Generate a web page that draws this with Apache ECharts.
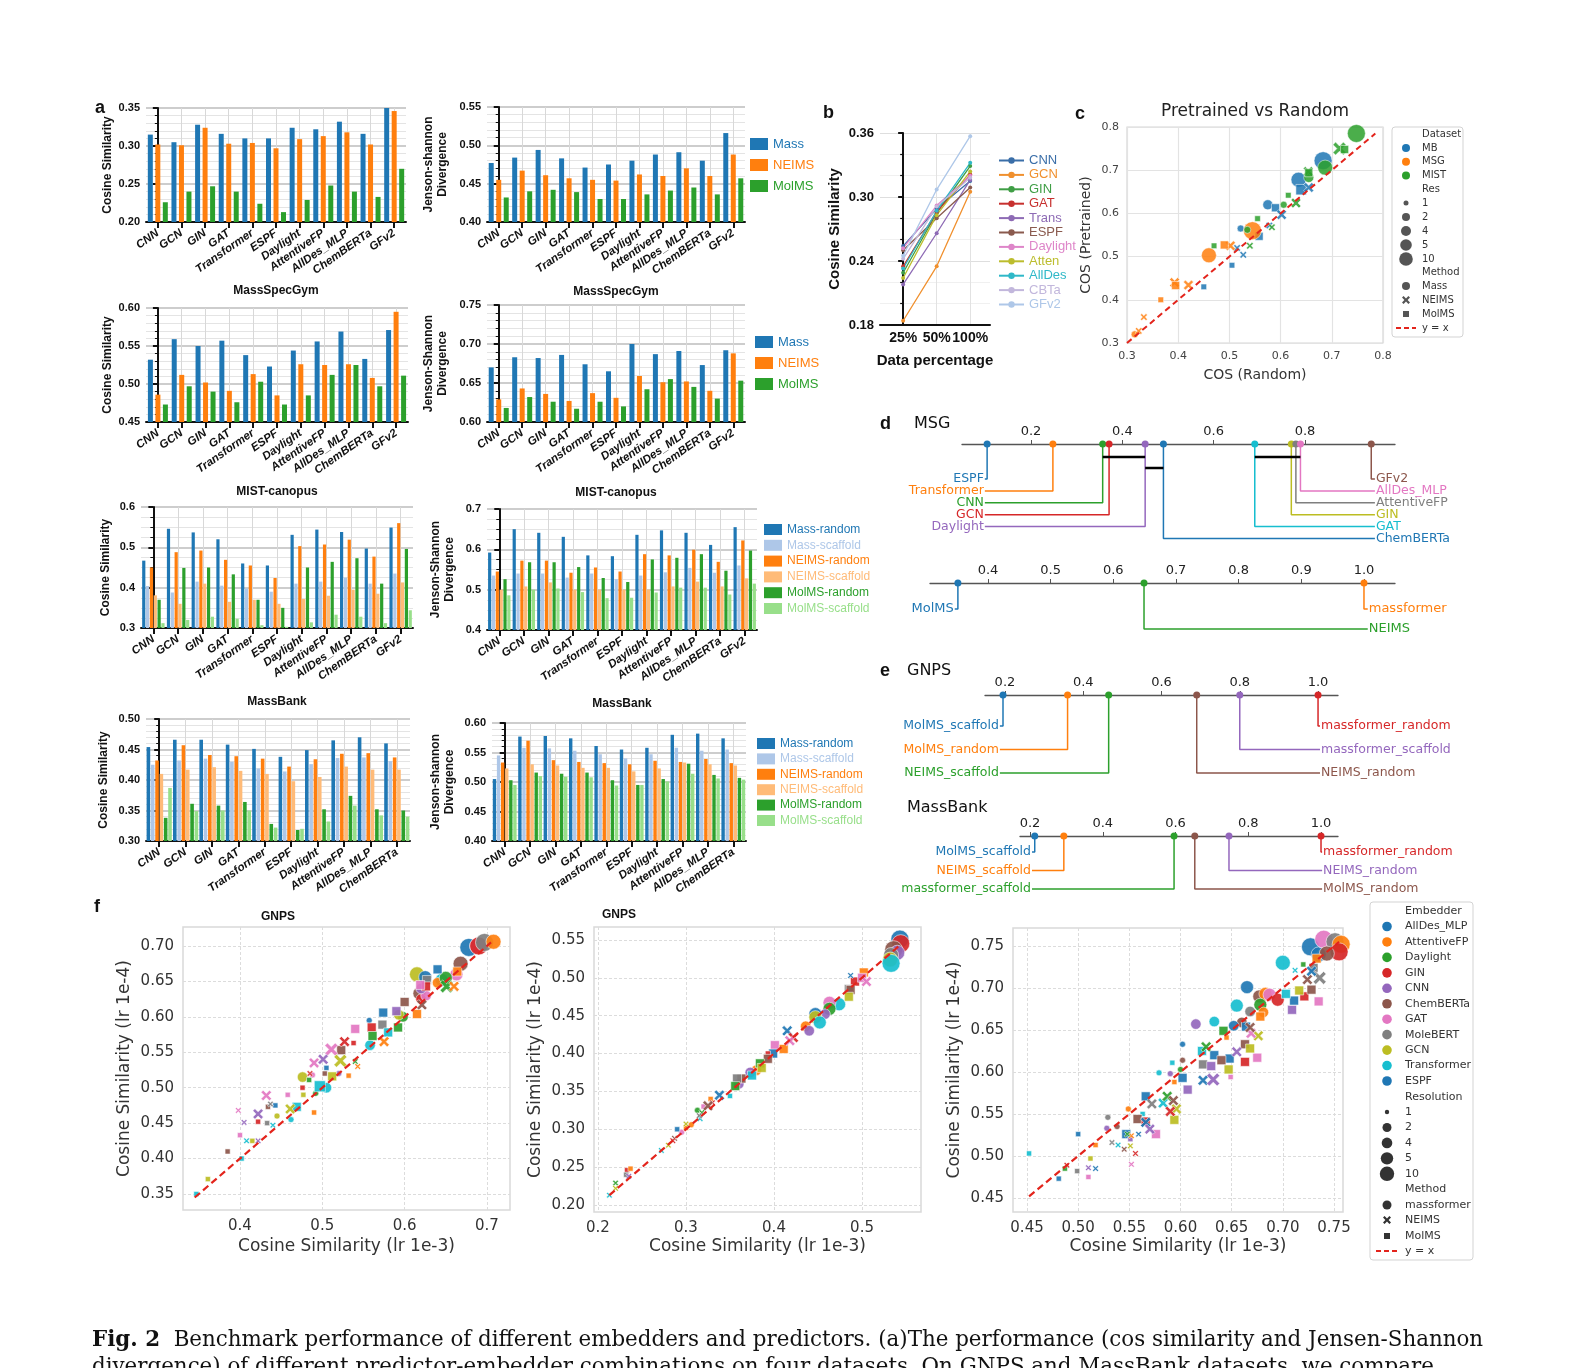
<!DOCTYPE html>
<html><head><meta charset="utf-8">
<script src="https://cdn.jsdelivr.net/npm/echarts@6/dist/echarts.min.js"></script>
<style>html,body{margin:0;padding:0;background:#fff;overflow:hidden}#c{width:1570px;height:1368px}</style>
</head><body><div id="c"></div>
<script>
// ================= DATA =================
const embA = ['CNN','GCN','GIN','GAT','Transformer','ESPF','Daylight','AttentiveFP','AllDes_MLP','ChemBERTa','GFv2'];
const embG = ['CNN','GCN','GIN','GAT','Transformer','ESPF','Daylight','AttentiveFP','AllDes_MLP','ChemBERTa'];
// MassSpecGym
const msgCos_Mass  = [0.315,0.305,0.328,0.316,0.310,0.310,0.324,0.322,0.332,0.316,0.350];
const msgCos_NEIMS = [0.302,0.301,0.324,0.303,0.304,0.297,0.309,0.313,0.318,0.302,0.346];
const msgCos_MolMS = [0.226,0.240,0.247,0.240,0.224,0.213,0.229,0.248,0.240,0.233,0.270];
const msgJS_Mass   = [0.477,0.484,0.494,0.483,0.471,0.475,0.480,0.488,0.491,0.480,0.516];
const msgJS_NEIMS  = [0.455,0.467,0.461,0.457,0.455,0.454,0.462,0.460,0.470,0.460,0.488];
const msgJS_MolMS  = [0.432,0.440,0.442,0.439,0.430,0.430,0.436,0.441,0.445,0.436,0.457];
// MIST-canopus
const mistCos_Mass  = [0.532,0.559,0.550,0.557,0.538,0.523,0.544,0.556,0.569,0.533,0.571];
const mistCos_NEIMS = [0.486,0.512,0.502,0.491,0.513,0.485,0.526,0.525,0.526,0.508,0.595];
const mistCos_MolMS = [0.473,0.497,0.490,0.476,0.503,0.473,0.485,0.512,0.525,0.497,0.511];
const mistJS_Mass   = [0.670,0.683,0.682,0.686,0.674,0.665,0.700,0.687,0.691,0.673,0.692];
const mistJS_NEIMS  = [0.629,0.643,0.636,0.627,0.637,0.631,0.659,0.651,0.652,0.640,0.688];
const mistJS_MolMS  = [0.618,0.632,0.626,0.617,0.626,0.620,0.642,0.655,0.645,0.630,0.653];
// MassBank
const mbCos_MassR  = [0.467,0.546,0.537,0.520,0.460,0.455,0.531,0.544,0.538,0.497,0.549];
const mbCos_MassS  = [0.404,0.388,0.415,0.405,0.398,0.390,0.410,0.415,0.425,0.410,0.435];
const mbCos_NEIMSR = [0.450,0.488,0.492,0.469,0.455,0.424,0.503,0.507,0.519,0.477,0.560];
const mbCos_NEIMSS = [0.381,0.360,0.410,0.365,0.370,0.360,0.372,0.380,0.395,0.385,0.413];
const mbCos_MolMSR = [0.370,0.449,0.450,0.433,0.370,0.350,0.450,0.464,0.473,0.410,0.496];
const mbCos_MolMSS = [0.312,0.320,0.328,0.323,0.307,0.303,0.314,0.333,0.328,0.312,0.344];
const mbJS_MassR   = [0.592,0.650,0.641,0.631,0.585,0.583,0.636,0.647,0.641,0.611,0.655];
const mbJS_MassS   = [0.535,0.540,0.540,0.530,0.540,0.526,0.535,0.543,0.554,0.542,0.560];
const mbJS_NEIMSR  = [0.545,0.572,0.572,0.542,0.555,0.545,0.588,0.585,0.599,0.569,0.622];
const mbJS_NEIMSS  = [0.500,0.508,0.518,0.500,0.500,0.500,0.500,0.508,0.520,0.508,0.528];
const mbJS_MolMSR  = [0.526,0.568,0.568,0.556,0.529,0.519,0.575,0.579,0.588,0.547,0.597];
const mbJS_MolMSS  = [0.486,0.500,0.503,0.494,0.479,0.480,0.493,0.505,0.505,0.488,0.515];
// GNPS
const gnCos_MassR  = [0.454,0.466,0.466,0.458,0.451,0.438,0.449,0.465,0.470,0.460];
const gnCos_MassS  = [0.425,0.432,0.435,0.430,0.419,0.414,0.426,0.436,0.437,0.431];
const gnCos_NEIMSR = [0.432,0.457,0.441,0.439,0.435,0.422,0.434,0.443,0.444,0.437];
const gnCos_NEIMSS = [0.410,0.417,0.421,0.415,0.410,0.398,0.405,0.422,0.417,0.417];
const gnCos_MolMSR = [0.338,0.361,0.358,0.364,0.328,0.318,0.352,0.374,0.352,0.350];
const gnCos_MolMSS = [0.387,0.349,0.350,0.350,0.322,0.320,0.332,0.358,0.342,0.340];
const gnJS_MassR   = [0.505,0.577,0.578,0.574,0.561,0.555,0.558,0.580,0.582,0.574];
const gnJS_MassS   = [0.545,0.558,0.557,0.553,0.547,0.540,0.547,0.558,0.553,0.555];
const gnJS_NEIMSR  = [0.533,0.570,0.537,0.534,0.532,0.530,0.536,0.534,0.539,0.532];
const gnJS_NEIMSS  = [0.523,0.530,0.528,0.524,0.524,0.518,0.523,0.533,0.530,0.528];
const gnJS_MolMSR  = [0.503,0.516,0.514,0.516,0.503,0.495,0.505,0.531,0.512,0.507];
const gnJS_MolMSS  = [0.495,0.510,0.509,0.508,0.494,0.495,0.501,0.514,0.506,0.504];

// Panel b
const bCats = ['25%','50%','100%'];
const bNames = ['CNN','GCN','GIN','GAT','Trans','ESPF','Daylight','Atten','AllDes','CBTa','GFv2'];
const b_CNN = [0.254,0.289,0.315];
const b_GCN = [0.184,0.235,0.305];
const b_GIN = [0.229,0.285,0.329];
const b_GAT = [0.235,0.286,0.321];
const b_Trans = [0.218,0.266,0.316];
const b_ESPF = [0.250,0.280,0.309];
const b_Daylight = [0.252,0.292,0.320];
const b_Atten = [0.224,0.283,0.324];
const b_AllDes = [0.233,0.287,0.332];
const b_CBTa = [0.242,0.291,0.318];
const b_GFv2 = [0.245,0.307,0.357];

// Panel c  [COS random, COS pretrained, dataset, res, method]
const cDatasets = ['MB','MSG','MIST'];
const cMethods = ['Mass','NEIMS','MolMS'];
const cRes = [1,2,4,5,10];
const cPoints = [
 [0.683,0.722,0,10,0],[0.635,0.678,0,5,0],[0.575,0.620,0,2,0],[0.522,0.565,0,1,0],
 [0.640,0.655,0,4,2],[0.590,0.613,0,2,2],[0.558,0.547,0,2,2],[0.505,0.480,0,1,2],[0.450,0.430,0,1,2],
 [0.655,0.660,0,2,1],[0.602,0.597,0,2,1],[0.578,0.572,0,1,1],[0.527,0.504,0,1,1],[0.515,0.520,0,1,1],
 [0.545,0.560,1,10,0],[0.460,0.503,1,5,0],[0.315,0.320,1,1,0],
 [0.502,0.525,1,2,1],[0.420,0.434,1,2,1],[0.393,0.440,1,2,1],[0.333,0.360,1,1,1],[0.323,0.328,1,1,1],
 [0.490,0.527,1,2,2],[0.395,0.433,1,2,2],[0.366,0.400,1,1,2],
 [0.748,0.785,2,10,0],[0.687,0.706,2,5,0],[0.655,0.683,2,2,0],[0.606,0.620,2,1,0],[0.535,0.562,2,1,0],
 [0.715,0.750,2,4,1],[0.654,0.697,2,2,1],[0.630,0.624,2,2,1],[0.583,0.568,2,1,1],[0.540,0.525,2,1,1],
 [0.725,0.748,2,2,2],[0.655,0.694,2,2,2],[0.615,0.642,2,1,2],[0.555,0.588,2,1,2],[0.470,0.525,2,1,2]
];

// Panel d / e (average rank positions)
const msgNames = ['ESPF','Transformer','CNN','GCN','Daylight','ChemBERTa','GAT','GIN','AttentiveFP','AllDes_MLP','GFv2'];
const msgVals  = [0.104,0.248,0.357,0.371,0.450,0.490,0.690,0.770,0.780,0.790,0.945];
const msgCliques = [[0.357,0.450],[0.450,0.490],[0.690,0.790]];
const molNames = ['MolMS','NEIMS','massformer'];
const molVals  = [0.352,0.649,1.000];
const gnpsNames = ['MolMS_scaffold','MolMS_random','NEIMS_scaffold','NEIMS_random','massformer_scaffold','massformer_random'];
const gnpsVals  = [0.195,0.360,0.465,0.690,0.800,1.000];
const mbNames = ['MolMS_scaffold','NEIMS_scaffold','massformer_scaffold','MolMS_random','NEIMS_random','massformer_random'];
const mbVals  = [0.213,0.293,0.596,0.653,0.747,1.000];

// Panel f  [lr 1e-3, lr 1e-4, embedder, resolution, method]
const fEmbedders = ['AllDes_MLP','AttentiveFP','Daylight','GIN','CNN','ChemBERTa','GAT','MoleBERT','GCN','Transformer','ESPF'];
const fMethods = ['massformer','NEIMS','MolMS'];
const f1Points = [
 [0.678,0.698,0,10,0],[0.688,0.700,6,5,0],[0.690,0.700,3,10,0],[0.697,0.705,7,10,0],[0.708,0.706,1,5,0],[0.668,0.675,5,5,0],
 [0.663,0.660,6,4,0],[0.615,0.660,8,5,0],[0.625,0.656,0,4,0],[0.645,0.652,9,4,0],[0.618,0.633,5,4,0],[0.620,0.625,3,2,0],
 [0.626,0.630,6,2,0],[0.598,0.600,2,2,0],[0.593,0.603,8,2,0],[0.557,0.595,0,1,0],[0.558,0.560,9,2,0],[0.476,0.515,8,2,0],
 [0.488,0.518,6,1,0],[0.520,0.520,4,1,0],[0.505,0.500,9,2,0],[0.492,0.492,2,1,0],[0.445,0.460,8,1,0],[0.462,0.455,9,1,0],
 [0.620,0.640,4,2,0],[0.640,0.648,1,2,0],[0.650,0.655,2,4,0],
 [0.664,0.664,1,2,2],[0.640,0.667,10,2,2],[0.627,0.652,7,2,2],[0.626,0.643,3,2,2],[0.619,0.645,6,2,2],[0.600,0.621,5,2,2],
 [0.590,0.608,4,2,2],[0.615,0.604,1,2,2],[0.574,0.606,10,2,2],[0.573,0.589,7,2,2],[0.560,0.585,3,2,2],[0.592,0.585,2,2,2],
 [0.580,0.578,9,2,2],[0.540,0.583,6,2,2],[0.561,0.573,2,2,2],[0.538,0.563,3,1,2],[0.523,0.553,5,2,2],[0.484,0.511,2,1,2],
 [0.503,0.520,5,1,2],[0.505,0.528,10,1,2],[0.532,0.517,1,1,2],[0.497,0.502,9,4,2],[0.512,0.516,8,2,2],[0.476,0.500,3,1,2],
 [0.477,0.490,8,1,2],[0.458,0.490,6,1,2],[0.434,0.473,5,1,2],[0.443,0.475,10,1,2],[0.469,0.473,9,2,2],[0.490,0.465,1,1,2],
 [0.422,0.452,3,1,2],[0.433,0.450,7,1,2],[0.400,0.433,6,1,2],[0.415,0.425,8,1,2],[0.402,0.400,9,1,2],[0.385,0.410,5,1,2],
 [0.361,0.371,8,1,2],[0.347,0.350,9,1,2],
 [0.651,0.643,2,4,1],[0.660,0.643,1,2,1],[0.621,0.617,5,2,1],[0.575,0.565,1,2,1],[0.527,0.565,3,2,1],[0.511,0.554,6,4,1],
 [0.490,0.535,6,2,1],[0.501,0.540,4,2,1],[0.522,0.538,8,4,1],[0.540,0.537,2,1,1],[0.543,0.530,1,1,1],[0.485,0.520,3,1,1],
 [0.432,0.489,6,2,1],[0.437,0.477,7,1,1],[0.461,0.470,8,2,1],[0.422,0.463,4,2,1],[0.405,0.451,4,1,1],[0.440,0.447,9,1,1],
 [0.398,0.468,6,1,1],[0.408,0.425,9,1,1],[0.422,0.425,4,1,1]
];
const f2Points = [
 [0.543,0.551,0,10,0],[0.544,0.545,3,10,0],[0.536,0.537,5,10,0],[0.540,0.533,4,5,0],[0.533,0.530,7,5,0],[0.532,0.524,8,5,0],
 [0.533,0.519,9,10,0],[0.474,0.465,9,4,0],[0.463,0.467,6,4,0],[0.463,0.459,2,4,0],[0.458,0.452,4,2,0],[0.447,0.452,0,4,0],
 [0.447,0.448,8,4,0],[0.452,0.441,9,4,0],[0.436,0.436,1,2,0],[0.440,0.430,4,2,0],[0.380,0.378,1,2,0],[0.373,0.375,4,2,0],
 [0.360,0.360,4,2,0],[0.313,0.325,2,1,0],[0.306,0.306,1,1,0],[0.295,0.296,6,1,0],
 [0.502,0.507,1,2,2],[0.492,0.495,3,2,2],[0.500,0.500,6,2,2],[0.485,0.485,7,2,2],[0.487,0.484,5,2,2],[0.485,0.475,8,2,2],
 [0.401,0.411,6,2,2],[0.411,0.406,1,2,2],[0.399,0.400,0,2,2],[0.393,0.400,3,1,2],[0.393,0.393,5,2,2],[0.384,0.387,2,2,2],
 [0.386,0.381,8,2,2],[0.375,0.371,9,2,2],[0.363,0.367,5,2,2],[0.358,0.367,7,2,2],[0.356,0.357,2,2,2],[0.350,0.344,9,1,2],
 [0.328,0.340,1,1,2],[0.320,0.330,6,1,2],[0.290,0.300,0,1,2],[0.300,0.302,1,1,2],[0.233,0.246,3,1,2],[0.237,0.248,1,1,2],
 [0.232,0.240,7,1,2],
 [0.487,0.503,0,1,1],[0.505,0.495,6,2,1],[0.415,0.430,0,2,1],[0.422,0.421,3,2,1],[0.418,0.417,6,2,1],[0.338,0.345,0,2,1],
 [0.330,0.335,3,1,1],[0.325,0.331,5,2,1],[0.318,0.322,2,1,1],[0.316,0.314,9,1,1],[0.315,0.318,7,1,1],[0.300,0.307,8,1,1],
 [0.287,0.288,5,1,1],[0.285,0.285,3,1,1],[0.280,0.279,8,1,1],[0.272,0.272,9,1,1],[0.235,0.238,4,1,1],[0.220,0.229,2,1,1],
 [0.220,0.222,8,1,1],[0.213,0.213,9,1,1]
];
const f3Points = [
 [0.727,0.749,0,10,0],[0.735,0.740,10,5,0],[0.740,0.758,6,10,0],[0.751,0.755,7,10,0],[0.757,0.752,1,10,0],[0.755,0.743,3,10,0],
 [0.743,0.741,5,5,0],[0.700,0.730,9,5,0],[0.665,0.701,10,4,0],[0.677,0.690,5,4,0],[0.683,0.693,1,4,0],[0.687,0.692,6,4,0],
 [0.678,0.680,2,4,0],[0.655,0.679,9,4,0],[0.615,0.657,4,2,0],[0.633,0.660,9,2,0],[0.602,0.633,0,1,0],[0.602,0.614,5,1,0],
 [0.579,0.599,9,1,0],[0.590,0.598,4,1,0],[0.600,0.603,2,1,0],[0.529,0.546,7,1,0],[0.538,0.535,5,1,0],[0.549,0.556,1,1,0],
 [0.528,0.533,4,1,0],[0.695,0.686,3,4,0],[0.660,0.659,5,2,0],[0.652,0.655,0,2,0],[0.668,0.672,7,2,0],[0.681,0.671,1,2,0],
 [0.735,0.684,6,2,2],[0.709,0.674,4,2,2],[0.711,0.685,10,2,2],[0.721,0.690,3,2,2],[0.728,0.698,5,2,2],[0.716,0.697,8,2,2],
 [0.730,0.724,7,2,2],[0.720,0.728,2,1,2],[0.733,0.735,1,2,2],[0.703,0.693,9,2,2],[0.678,0.666,1,2,2],[0.663,0.633,5,2,2],
 [0.675,0.617,6,2,2],[0.668,0.628,8,2,2],[0.663,0.612,3,2,2],[0.648,0.616,10,2,2],[0.647,0.603,8,2,2],[0.649,0.594,6,1,2],
 [0.622,0.609,7,2,2],[0.630,0.607,4,2,2],[0.633,0.620,0,2,2],[0.621,0.625,9,2,2],[0.642,0.649,2,2,2],[0.645,0.641,1,1,2],
 [0.664,0.654,10,2,2],[0.640,0.614,5,2,2],[0.602,0.593,10,2,2],[0.592,0.611,9,1,2],[0.594,0.588,1,1,2],[0.607,0.579,4,2,2],
 [0.566,0.571,0,2,2],[0.563,0.550,9,1,2],[0.558,0.544,5,2,2],[0.566,0.541,3,2,2],[0.594,0.543,8,2,2],[0.576,0.526,6,2,2],
 [0.547,0.526,10,2,2],[0.551,0.520,4,1,2],[0.517,0.513,1,1,2],[0.512,0.497,8,1,2],[0.500,0.526,0,1,2],[0.452,0.503,9,1,2],
 [0.481,0.473,10,1,2],[0.499,0.482,7,1,2],[0.510,0.475,6,1,2],[0.487,0.485,2,1,2],
 [0.736,0.712,7,4,1],[0.724,0.710,5,2,1],[0.728,0.720,0,2,1],[0.712,0.721,9,1,1],[0.676,0.643,8,2,1],[0.669,0.646,6,2,1],
 [0.668,0.653,5,2,1],[0.655,0.624,4,2,1],[0.622,0.590,10,2,1],[0.632,0.591,4,4,1],[0.625,0.630,2,2,1],[0.583,0.563,9,2,1],
 [0.587,0.571,2,2,1],[0.593,0.566,5,2,1],[0.596,0.556,8,2,1],[0.590,0.553,3,2,1],[0.572,0.562,7,2,1],[0.566,0.540,10,2,1],
 [0.570,0.532,4,2,1],[0.539,0.513,9,1,1],[0.533,0.516,7,1,1],[0.545,0.508,5,1,1],[0.551,0.512,8,1,1],[0.552,0.524,1,1,1],
 [0.559,0.526,0,1,1],[0.556,0.503,3,1,1],[0.552,0.490,6,1,1],[0.510,0.486,4,1,1],[0.517,0.485,10,1,1],[0.489,0.489,3,1,1],
 [0.548,0.526,2,1,1]
];

// ================= STYLE / BUILD =================
const SANS = 'Liberation Sans', DJ = 'DejaVu Sans';
const C_MASS='#1f77b4', C_NEIMS='#ff7f0e', C_MOLMS='#2ca02c', C_MASS_S='#aec7e8', C_NEIMS_S='#ffbb78', C_MOLMS_S='#98df8a';
const F_COL = ['#1f77b4','#ff7f0e','#2ca02c','#d62728','#9467bd','#8c564b','#e377c2','#7f7f7f','#bcbd22','#17becf','#1f77b4'];
const C_COL = ['#1f77b4','#ff7f0e','#2ca02c'];
const XPATH = 'path://M2,0L5,3L8,0L10,2L7,5L10,8L8,10L5,7L2,10L0,8L3,5L0,2Z';
const SYM = ['circle', XPATH, 'rect'];

const option = {animation:false, backgroundColor:'#fff', grid:[], xAxis:[], yAxis:[], series:[], legend:[], graphic:[]};
function addGrid(g){ option.grid.push(Object.assign({outerBoundsMode:'none', containLabel:false}, g)); return option.grid.length-1; }
function addX(a){ option.xAxis.push(a); return option.xAxis.length-1; }
function addY(a){ option.yAxis.push(a); return option.yAxis.length-1; }

function barPanel(cfg){
  const gi = addGrid(cfg.grid);
  const n = cfg.cats.length;
  const xi = addX({gridIndex:gi, type:'category', data:cfg.cats, position:'bottom',
    axisLine:{show:true, lineStyle:{color:'#111', width:2}},
    axisTick:{show:true, alignWithLabel:true, length:6, lineStyle:{color:'#111', width:2}},
    axisLabel:{interval:0, rotate:35, margin:10, fontFamily:SANS, fontWeight:'bold', fontStyle:'italic', fontSize:11.5, color:'#111'},
    splitLine:{show:false},
    name:cfg.xName, nameLocation:'middle', nameGap:cfg.xGap,
    nameTextStyle:{fontFamily:SANS, fontWeight:'bold', fontSize:12, color:'#111'}});
  const centers = cfg.cats.map((c,i)=>i);
  addX({gridIndex:gi, type:'value', position:'top', min:-0.5, max:n-0.5,
    axisLine:{show:false}, axisTick:{show:false, customValues:centers}, axisLabel:{show:false, customValues:centers},
    splitLine:{show:true, lineStyle:{color:'#d8d8d8', width:1}}});
  const yi = addY({gridIndex:gi, type:'value', min:cfg.yMin, max:cfg.yMax, interval:cfg.yInt,
    axisLine:{show:true, lineStyle:{color:'#111', width:2}},
    axisTick:{show:true, length:5, lineStyle:{color:'#111', width:2}},
    minorTick:{show:true, splitNumber:cfg.minor, length:3, lineStyle:{color:'#111', width:1}},
    splitLine:{show:true, lineStyle:{color:'#bcbcbc', width:1.5}},
    minorSplitLine:{show:true, lineStyle:{color:'#e4e4e4', width:1}},
    axisLabel:{formatter:v=>v.toFixed(cfg.dec), fontFamily:SANS, fontWeight:'bold', fontSize:11, color:'#111', margin:6},
    name:cfg.yName, nameLocation:'middle', nameGap:cfg.yGap, nameRotate:90,
    nameTextStyle:{fontFamily:SANS, fontWeight:'bold', fontSize:12, color:'#111', lineHeight:14, align:'center'}});
  cfg.series.forEach(s => option.series.push({type:'bar', name:s.name, xAxisIndex:xi, yAxisIndex:yi, data:s.data,
    barWidth:cfg.barW, barGap:cfg.barGap, itemStyle:{color:s.color}, silent:true}));
  if (cfg.legend) {
    option.legend.push(Object.assign({orient:'vertical', icon:'rect', selectedMode:false,
      data: cfg.series.map(s=>({name:s.name, textStyle:{color:s.color}})),
      textStyle:{fontFamily:SANS, fontSize:cfg.legend.fs, lineHeight:cfg.legend.fs+1, padding:[0,0,0,0]}, padding:0}, cfg.legend.pos));
  }
}

const S3 = (a,b,c)=>[{name:'Mass',data:a,color:C_MASS},{name:'NEIMS',data:b,color:C_NEIMS},{name:'MolMS',data:c,color:C_MOLMS}];
const S6 = (a,b,c,d,e,f)=>[{name:'Mass-random',data:a,color:C_MASS},{name:'Mass-scaffold',data:b,color:C_MASS_S},
  {name:'NEIMS-random',data:c,color:C_NEIMS},{name:'NEIMS-scaffold',data:d,color:C_NEIMS_S},
  {name:'MolMS-random',data:e,color:C_MOLMS},{name:'MolMS-scaffold',data:f,color:C_MOLMS_S}];

barPanel({grid:{left:146,top:108,width:260,height:114}, cats:embA, yMin:0.20,yMax:0.35,yInt:0.05,minor:5,dec:2,
  yName:'Cosine Similarity', yGap:31, xName:'MassSpecGym', xGap:63, barW:5, barGap:'50%', series:S3(msgCos_Mass,msgCos_NEIMS,msgCos_MolMS)});
barPanel({grid:{left:487,top:107,width:258,height:115}, cats:embA, yMin:0.40,yMax:0.55,yInt:0.05,minor:5,dec:2,
  yName:'Jenson-shannon\nDivergence', yGap:37, xName:'MassSpecGym', xGap:64, barW:5, barGap:'50%', series:S3(msgJS_Mass,msgJS_NEIMS,msgJS_MolMS),
  legend:{fs:13, pos:{left:750, top:137, itemWidth:18, itemHeight:12, itemGap:7}}});
barPanel({grid:{left:146,top:308,width:262,height:114}, cats:embA, yMin:0.45,yMax:0.60,yInt:0.05,minor:5,dec:2,
  yName:'Cosine Similarity', yGap:31, xName:'MIST-canopus', xGap:64, barW:5, barGap:'50%', series:S3(mistCos_Mass,mistCos_NEIMS,mistCos_MolMS)});
barPanel({grid:{left:487,top:305,width:258,height:117}, cats:embA, yMin:0.60,yMax:0.75,yInt:0.05,minor:5,dec:2,
  yName:'Jenson-Shannon\nDivergence', yGap:37, xName:'MIST-canopus', xGap:65, barW:5, barGap:'50%', series:S3(mistJS_Mass,mistJS_NEIMS,mistJS_MolMS),
  legend:{fs:13, pos:{left:755, top:335, itemWidth:18, itemHeight:12, itemGap:7}}});
barPanel({grid:{left:141,top:507,width:272,height:121}, cats:embA, yMin:0.3,yMax:0.6,yInt:0.1,minor:4,dec:1,
  yName:'Cosine Similarity', yGap:28, xName:'MassBank', xGap:68, barW:3.2, barGap:'20%',
  series:S6(mbCos_MassR,mbCos_MassS,mbCos_NEIMSR,mbCos_NEIMSS,mbCos_MolMSR,mbCos_MolMSS)});
barPanel({grid:{left:487,top:509,width:270,height:121}, cats:embA, yMin:0.4,yMax:0.7,yInt:0.1,minor:4,dec:1,
  yName:'Jenson-Shannon\nDivergence', yGap:30, xName:'MassBank', xGap:68, barW:3.2, barGap:'20%',
  series:S6(mbJS_MassR,mbJS_MassS,mbJS_NEIMSR,mbJS_NEIMSS,mbJS_MolMSR,mbJS_MolMSS),
  legend:{fs:12, pos:{left:764, top:523, itemWidth:18, itemHeight:11, itemGap:2.8}}});
barPanel({grid:{left:146,top:719,width:264,height:122}, cats:embG, yMin:0.30,yMax:0.50,yInt:0.05,minor:5,dec:2,
  yName:'Cosine Similarity', yGap:35, xName:'GNPS', xGap:70, barW:3.6, barGap:'20%',
  series:S6(gnCos_MassR,gnCos_MassS,gnCos_NEIMSR,gnCos_NEIMSS,gnCos_MolMSR,gnCos_MolMSS)});
barPanel({grid:{left:492,top:723,width:254,height:118}, cats:embG, yMin:0.40,yMax:0.60,yInt:0.05,minor:5,dec:2,
  yName:'Jenson-shannon\nDivergence', yGap:35, xName:'GNPS', xGap:68, barW:3.4, barGap:'20%',
  series:S6(gnJS_MassR,gnJS_MassS,gnJS_NEIMSR,gnJS_NEIMSS,gnJS_MolMSR,gnJS_MolMSS),
  legend:{fs:12, pos:{left:757, top:737, itemWidth:18, itemHeight:11, itemGap:2.4}}});

// ---- Panel b ----
(function(){
  const gi = addGrid({left:880, top:133, width:110, height:192});
  const xi = addX({gridIndex:gi, type:'value', min:-0.69, max:2.59,
    axisLine:{show:true, lineStyle:{color:'#111', width:2}}, axisTick:{show:false, customValues:[0,1,2]},
    axisLabel:{customValues:[0,1,2], formatter:v=>bCats[Math.round(v)], fontFamily:SANS, fontWeight:'bold', fontSize:14, color:'#111', margin:6},
    splitLine:{show:true, lineStyle:{color:'#e2e2e2', width:1}},
    name:'Data percentage', nameLocation:'middle', nameGap:28, nameTextStyle:{fontFamily:SANS, fontWeight:'bold', fontSize:15, color:'#111'}});
  const yi = addY({gridIndex:gi, type:'value', min:0.18, max:0.36, interval:0.06,
    axisLine:{show:true, lineStyle:{color:'#111', width:2}}, axisTick:{show:true, length:5, lineStyle:{color:'#111', width:2}},
    minorTick:{show:true, splitNumber:3, length:3, lineStyle:{color:'#111', width:1.2}},
    splitLine:{show:true, lineStyle:{color:'#dedede', width:1}}, minorSplitLine:{show:true, lineStyle:{color:'#f0f0f0'}},
    axisLabel:{formatter:v=>v.toFixed(2), fontFamily:SANS, fontWeight:'bold', fontSize:13, color:'#111', margin:6},
    name:'Cosine Similarity', nameLocation:'middle', nameGap:38, nameTextStyle:{fontFamily:SANS, fontWeight:'bold', fontSize:15, color:'#111'}});
  const bData = [b_CNN,b_GCN,b_GIN,b_GAT,b_Trans,b_ESPF,b_Daylight,b_Atten,b_AllDes,b_CBTa,b_GFv2];
  const bCol = ['#3a6ea8','#f0902e','#3f9e45','#c7312f','#8e6bb5','#8a5a4e','#de86c9','#bcbd2e','#2fb8c8','#c2b7dc','#aec7e8'];
  bData.forEach((arr,i)=>option.series.push({type:'line', name:bNames[i], xAxisIndex:xi, yAxisIndex:yi,
    data:arr.map((v,j)=>[j,v]), symbol:'circle', symbolSize:4, lineStyle:{width:1.3, color:bCol[i]}, itemStyle:{color:bCol[i]}, silent:true}));
  option.legend.push({orient:'vertical', left:998, top:154, itemWidth:25, itemHeight:8, itemGap:1.4, selectedMode:false, padding:0,
    data:bNames.map((n,i)=>({name:n, textStyle:{color:bCol[i]}})), textStyle:{fontFamily:SANS, fontSize:13, lineHeight:13}});
})();

// ---- Panel c ----
(function(){
  const gi = addGrid({left:1127, top:127, width:256, height:216, show:true, borderColor:'#d6d6d6', borderWidth:1.2, backgroundColor:'rgba(0,0,0,0)'});
  const ax = (name, gap) => ({gridIndex:gi, type:'value', min:0.3, max:0.8, interval:0.1,
    axisLine:{show:false}, axisTick:{show:false},
    axisLabel:{formatter:v=>v.toFixed(1), fontFamily:DJ, fontSize:11, color:'#444', margin:8},
    splitLine:{show:true, lineStyle:{color:'#e3e3e3', width:1.2}},
    name:name, nameLocation:'middle', nameGap:gap, nameTextStyle:{fontFamily:DJ, fontSize:14, color:'#333'}});
  const xi = addX(ax('COS (Random)', 25));
  const yi = addY(ax('COS (Pretrained)', 34));
  const sz = {1:7,2:10,4:13,5:15,10:18};
  option.series.push({type:'scatter', name:'c_points', xAxisIndex:xi, yAxisIndex:yi, data:cPoints,
    symbol:v=>SYM[v[4]], symbolSize:v=>sz[v[3]]*(v[4]===2?0.8:1),
    itemStyle:{color:p=>C_COL[p.value[2]], borderColor:'#fff', borderWidth:0.6, opacity:0.85}, silent:true});
  option.series.push({type:'line', name:'c_yx', xAxisIndex:xi, yAxisIndex:yi, data:[[0.3,0.3],[0.785,0.785]], symbol:'none',
    lineStyle:{color:'#e3241c', width:2, type:[6,4]}, silent:true, z:4});
})();

// ---- Panels d, e (critical-difference style diagrams) ----
function cdPanel(cfg){
  const gi = addGrid(cfg.grid);
  const xi = addX({gridIndex:gi, type:'value', position:'top', min:cfg.xr[0], max:cfg.xr[1],
    axisLine:{show:true, onZero:false, lineStyle:{color:'#555', width:1.3}},
    axisTick:{show:true, customValues:cfg.ticks, length:4, lineStyle:{color:'#555'}},
    axisLabel:{customValues:cfg.ticks, formatter:v=>v.toFixed(1), fontFamily:DJ, fontSize:13, color:'#222', margin:6},
    splitLine:{show:false}});
  const yi = addY({gridIndex:gi, type:'value', min:0, max:cfg.grid.height, inverse:true, show:false});
  const n = cfg.vals.length, nLeft = Math.floor(n/2);
  const order = cfg.vals.map((v,i)=>i).sort((a,b)=>cfg.vals[a]-cfg.vals[b]);
  order.forEach((idx,k)=>{
    const left = k < nLeft;
    const row = left ? k : n-1-k;
    const y = cfg.rowBase + row*cfg.rowStep;
    const v = cfg.vals[idx], col = cfg.colors[idx];
    const end = left ? cfg.ends[0] : cfg.ends[1];
    option.series.push({type:'line', name:'cd_'+cfg.id+'_'+cfg.names[idx], xAxisIndex:xi, yAxisIndex:yi, clip:false,
      data:[{value:[v,0], symbol:'circle', symbolSize:7},
            {value:[v,y], symbolSize:0},
            {value:[end,y], symbolSize:0, label:{show:true, position:left?'left':'right', distance:1, formatter:cfg.names[idx],
               color:col, fontFamily:DJ, fontSize:cfg.fs}}],
      symbol:'circle', symbolSize:0, showSymbol:true, lineStyle:{color:col, width:1.5}, itemStyle:{color:col}, silent:true, z:3});
  });
  (cfg.cliques||[]).forEach((c,k)=>{
    option.series.push({type:'line', name:'cd_'+cfg.id+'_clique'+k, xAxisIndex:xi, yAxisIndex:yi,
      data:[[c[0], cfg.cliqueY[k]],[c[1], cfg.cliqueY[k]]], symbol:'none', lineStyle:{color:'#000', width:2.4}, silent:true, z:4});
  });
}
cdPanel({id:'msg', grid:{left:962, top:444, width:433, height:100}, xr:[0.049,0.997], ticks:[0.2,0.4,0.6,0.8],
  names:msgNames, vals:msgVals, colors:['#1f77b4','#ff7f0e','#2ca02c','#d62728','#9467bd','#1f77b4','#17becf','#bcbd22','#7f7f7f','#e377c2','#8c564b'],
  rowBase:35, rowStep:11.9, ends:[0.099,0.953], fs:12.5, cliques:msgCliques, cliqueY:[13,24,13]});
cdPanel({id:'mol', grid:{left:930, top:583, width:465, height:60}, xr:[0.3075,1.0495], ticks:[0.4,0.5,0.6,0.7,0.8,0.9,1.0],
  names:molNames, vals:molVals, colors:['#1f77b4','#2ca02c','#ff7f0e'], rowBase:26, rowStep:20, ends:[0.347,1.006], fs:13});
cdPanel({id:'gnps', grid:{left:985, top:695, width:353, height:90}, xr:[0.149,1.051], ticks:[0.2,0.4,0.6,0.8,1.0],
  names:gnpsNames, vals:gnpsVals, colors:['#1f77b4','#ff7f0e','#2ca02c','#8c564b','#9467bd','#d62728'], rowBase:31, rowStep:23.5, ends:[0.187,1.005], fs:12.5});
cdPanel({id:'mb', grid:{left:1020, top:836, width:318, height:60}, xr:[0.1725,1.0467], ticks:[0.2,0.4,0.6,0.8,1.0],
  names:mbNames, vals:mbVals, colors:['#1f77b4','#ff7f0e','#2ca02c','#8c564b','#9467bd','#d62728'], rowBase:16, rowStep:18.5, ends:[0.2055,1.003], fs:12.5});

// ---- Panel f ----
function scatterPanel(cfg){
  const gi = addGrid(Object.assign({show:true, borderColor:'#d9d9d9', borderWidth:1.5, backgroundColor:'rgba(0,0,0,0)'}, cfg.grid));
  const ax = (r, ticks, dec, name, gap) => ({gridIndex:gi, type:'value', min:r[0], max:r[1],
    axisLine:{show:false}, axisTick:{show:false, customValues:ticks},
    axisLabel:{customValues:ticks, formatter:v=>v.toFixed(dec), fontFamily:DJ, fontSize:15, color:'#333', margin:9},
    splitLine:{show:true, lineStyle:{color:'#dcdcdc', width:1, type:[3,2]}},
    name:name, nameLocation:'middle', nameGap:gap, nameTextStyle:{fontFamily:DJ, fontSize:17, color:'#333'}});
  const xi = addX(ax(cfg.xr, cfg.xt, cfg.xd, 'Cosine Similarity (lr 1e-3)', cfg.xGap));
  const yi = addY(ax(cfg.yr, cfg.yt, cfg.yd, 'Cosine Similarity (lr 1e-4)', cfg.yGap));
  const sz = {1:6,2:10.5,4:13,5:15,10:18};
  option.series.push({type:'scatter', name:cfg.id, xAxisIndex:xi, yAxisIndex:yi, data:cfg.data,
    symbol:v=>SYM[v[4]], symbolSize:v=>sz[v[3]]*(v[4]===2?0.85:1),
    itemStyle:{color:p=>F_COL[p.value[2]], borderColor:'#fff', borderWidth:0.6, opacity:0.92}, silent:true});
  option.series.push({type:'line', name:cfg.id+'_yx', xAxisIndex:xi, yAxisIndex:yi, data:cfg.line, symbol:'none',
    lineStyle:{color:'#e3241c', width:2.2, type:[7,4]}, silent:true, z:4});
}
scatterPanel({id:'f1', grid:{left:183, top:927, width:327, height:283}, xr:[0.3308,0.728], yr:[0.3274,0.7268],
  xt:[0.4,0.5,0.6,0.7], yt:[0.35,0.40,0.45,0.50,0.55,0.60,0.65,0.70], xd:1, yd:2, xGap:28, yGap:50,
  data:f1Points, line:[[0.345,0.345],[0.705,0.705]]});
scatterPanel({id:'f2', grid:{left:594, top:927, width:327, height:285}, xr:[0.1955,0.567], yr:[0.1908,0.567],
  xt:[0.2,0.3,0.4,0.5], yt:[0.20,0.25,0.30,0.35,0.40,0.45,0.50,0.55], xd:1, yd:2, xGap:26, yGap:50,
  data:f2Points, line:[[0.213,0.213],[0.545,0.545]]});
scatterPanel({id:'f3', grid:{left:1013, top:928, width:330, height:284}, xr:[0.4363,0.7588], yr:[0.4333,0.7714],
  xt:[0.45,0.50,0.55,0.60,0.65,0.70,0.75], yt:[0.45,0.50,0.55,0.60,0.65,0.70,0.75], xd:2, yd:2, xGap:26, yGap:50,
  data:f3Points, line:[[0.452,0.452],[0.755,0.755]]});

// ---- Graphic: panel letters, titles, custom legends, caption ----
const G = option.graphic;
function T(x,y,text,font,fill,align){ G.push({type:'text', x:x, y:y, silent:true, z:20,
  style:{text:text, font:font, fill:fill||'#111', textAlign:align||'left', textVerticalAlign:'middle', align:align||'left', verticalAlign:'middle'}}); }
function circ(cx,cy,r,fill){ G.push({type:'circle', shape:{cx:cx,cy:cy,r:r}, style:{fill:fill}, silent:true, z:21}); }
function sq(cx,cy,s,fill){ G.push({type:'rect', shape:{x:cx-s/2,y:cy-s/2,width:s,height:s}, style:{fill:fill}, silent:true, z:21}); }
function xm(cx,cy,s,fill){ const P=[[2,0],[5,3],[8,0],[10,2],[7,5],[10,8],[8,10],[5,7],[2,10],[0,8],[3,5],[0,2]];
  G.push({type:'polygon', shape:{points:P.map(p=>[cx+(p[0]-5)*s/10, cy+(p[1]-5)*s/10])}, style:{fill:fill}, silent:true, z:21}); }
function dash(x1,x2,y){ G.push({type:'line', shape:{x1:x1,y1:y,x2:x2,y2:y}, style:{stroke:'#e3241c', lineWidth:2, lineDash:[5,3]}, silent:true, z:21}); }
function box(x,y,w,h){ G.push({type:'rect', shape:{x:x,y:y,width:w,height:h,r:3}, style:{fill:'#fff', stroke:'#d3d3d3', lineWidth:1}, silent:true, z:19}); }

const LET = 'bold 18px "Liberation Sans"';
T(95,108,'a',LET); T(823,113,'b',LET); T(1075,114,'c',LET); T(880,424,'d',LET); T(880,671,'e',LET); T(94,907,'f',LET);
T(914,424,'MSG','16px "DejaVu Sans"'); T(907,671,'GNPS','16px "DejaVu Sans"'); T(907,808,'MassBank','16px "DejaVu Sans"');
T(1255,112,'Pretrained vs Random','17px "DejaVu Sans"','#222','center');

// legend c
box(1392,127,71,210);
const LF = '10px "DejaVu Sans"', LC = '#333';
T(1422,134,'Dataset',LF,LC);
cDatasets.forEach((d,i)=>{ circ(1406,148+i*13.7,4,C_COL[i]); T(1422,148+i*13.7,d,LF,LC); });
T(1422,189,'Res',LF,LC);
const cResR = [2.5,4,5,5.8,6.8];
cRes.forEach((r,i)=>{ circ(1406,203+i*14,cResR[i],'#555'); T(1422,203+i*14,String(r),LF,LC); });
T(1422,272,'Method',LF,LC);
circ(1406,286,4,'#555'); T(1422,286,cMethods[0],LF,LC);
xm(1406,300,8,'#555'); T(1422,300,cMethods[1],LF,LC);
sq(1406,314,6,'#555'); T(1422,314,cMethods[2],LF,LC);
dash(1396,1416,328); T(1422,328,'y = x',LF,LC);

// legend f
box(1370,902,103,358);
const FF = '11px "DejaVu Sans"';
T(1405,911,'Embedder',FF,LC);
fEmbedders.forEach((e,i)=>{ circ(1387,926.5+i*15.45,4.8,F_COL[i]); T(1405,926.5+i*15.45,e,FF,LC); });
T(1405,1097,'Resolution',FF,LC);
const fResR = [2.2,4.5,5.3,6.2,7.2];
cRes.forEach((r,i)=>{ circ(1387,1112+i*15.45,fResR[i],'#333'); T(1405,1112+i*15.45,String(r),FF,LC); });
T(1405,1189,'Method',FF,LC);
circ(1387,1205,4.5,'#333'); T(1405,1205,fMethods[0],FF,LC);
xm(1387,1220,8,'#333'); T(1405,1220,fMethods[1],FF,LC);
sq(1387,1236,6,'#333'); T(1405,1236,fMethods[2],FF,LC);
dash(1376,1398,1251); T(1405,1251,'y = x',FF,LC);

// caption
G.push({type:'text', x:92, y:1340, silent:true, z:20, style:{
  text:'{b|Fig. 2}  Benchmark performance of different embedders and predictors. (a)The performance (cos similarity and Jensen-Shannon',
  rich:{b:{font:'bold 21.4px "DejaVu Serif"', fill:'#111'}}, font:'21.4px "DejaVu Serif"', fill:'#111', textVerticalAlign:'middle', verticalAlign:'middle'}});
G.push({type:'text', x:92, y:1367, silent:true, z:20, style:{
  text:'divergence) of different predictor-embedder combinations on four datasets. On GNPS and MassBank datasets, we compare',
  font:'21.4px "DejaVu Serif"', fill:'#111', textVerticalAlign:'middle', verticalAlign:'middle'}});

const chart = echarts.init(document.getElementById('c'), null, {renderer:'canvas', width:1570, height:1368});
chart.setOption(option);
</script></body></html>
